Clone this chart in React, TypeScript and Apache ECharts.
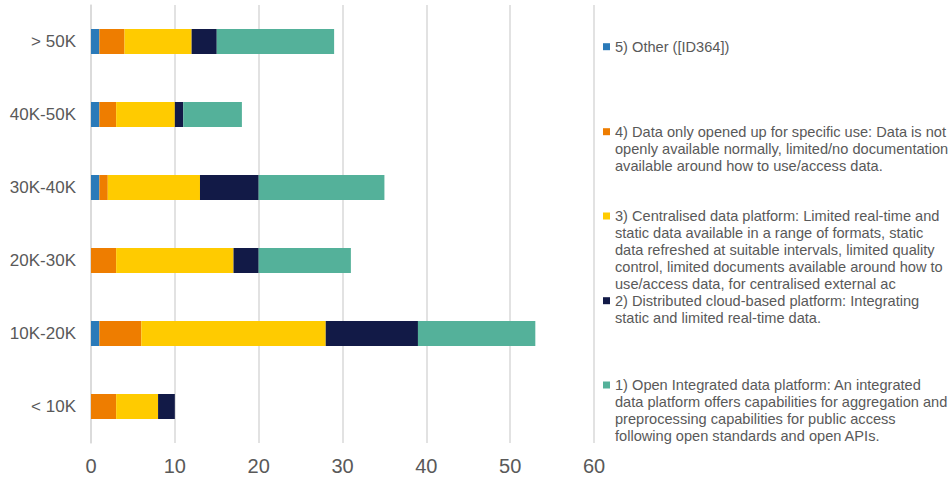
import React, { useEffect, useRef } from "react";
import * as echarts from "echarts";

const categories = ["< 10K", "10K-20K", "20K-30K", "30K-40K", "40K-50K", "> 50K"];
const other5 = [0, 1, 0, 1, 1, 1];
const specific4 = [3, 5, 3, 1, 2, 3];
const centralised3 = [5, 22, 14, 11, 7, 8];
const distributed2 = [2, 11, 3, 7, 1, 3];
const openIntegrated1 = [0, 14, 11, 15, 7, 14];
const xTicks = { min: 0, max: 60, interval: 10 };

const seriesNames = [
  "5) Other ([ID364])",
  "4) Data only opened up for specific use: Data is not\nopenly available normally, limited/no documentation\navailable around how to use/access data.",
  "3) Centralised data platform: Limited real-time and\nstatic data available in a range of formats, static\ndata refreshed at suitable intervals, limited quality\ncontrol, limited documents available around how to\nuse/access data, for centralised external ac",
  "2) Distributed cloud-based platform: Integrating\nstatic and limited real-time data.",
  "1) Open Integrated data platform: An integrated\ndata platform offers capabilities for aggregation and\npreprocessing capabilities for public access\nfollowing open standards and open APIs.",
];
const colors = ["#2A7AB9", "#EE7D00", "#FFCB00", "#121A47", "#54B19A"];
const seriesData = [other5, specific4, centralised3, distributed2, openIntegrated1];
const legendFirstLineY = [46.7, 131.7, 216, 300.7, 385];

const FONT = "'Liberation Sans', Arial, sans-serif";
const LH = 17;

export default function App() {
  const ref = useRef<HTMLDivElement>(null);
  useEffect(() => {
    if (!ref.current) return;
    const chart = echarts.init(ref.current, undefined, { renderer: "svg" });
    const legends = seriesNames.map((name, i) => {
      const n = name.split("\n").length;
      return {
        data: [name],
        left: 603,
        top: legendFirstLineY[i] - ((2 * n - 1) * LH) / 2,
        padding: 0,
        orient: "vertical",
        itemWidth: 7,
        itemHeight: 7,
        icon: "rect",
        selectedMode: false,
        formatter: (nm: string) => "\n".repeat(nm.split("\n").length - 1) + nm,
        textStyle: {
          fontFamily: FONT,
          fontSize: 14.6,
          lineHeight: LH,
          color: "#595959",
        },
      };
    });
    chart.setOption({
      animation: false,
      backgroundColor: "#ffffff",
      color: colors,
      legend: legends,
      grid: { left: 91, right: 358, top: 5, bottom: 38, containLabel: false },
      xAxis: {
        type: "value",
        min: xTicks.min,
        max: xTicks.max,
        interval: xTicks.interval,
        axisLine: { show: false },
        axisTick: { show: false },
        axisLabel: { color: "#595959", fontSize: 20, fontFamily: FONT, margin: 13 },
        splitLine: { lineStyle: { color: "#d9d9d9", width: 1.5 } },
      },
      yAxis: {
        type: "category",
        data: categories,
        axisLine: { show: true, lineStyle: { color: "#d9d9d9", width: 1.5 } },
        axisTick: { show: false },
        axisLabel: { color: "#595959", fontSize: 17, fontFamily: FONT, margin: 15 },
      },
      series: seriesNames.map((name, i) => ({
        name,
        type: "bar",
        stack: "total",
        barWidth: 25,
        data: seriesData[i],
        itemStyle: { color: colors[i] },
      })),
    });
    return () => chart.dispose();
  }, []);
  return (
    <div
      ref={ref}
      style={{ position: "fixed", left: 0, top: 0, width: 952, height: 481 }}
    />
  );
}
